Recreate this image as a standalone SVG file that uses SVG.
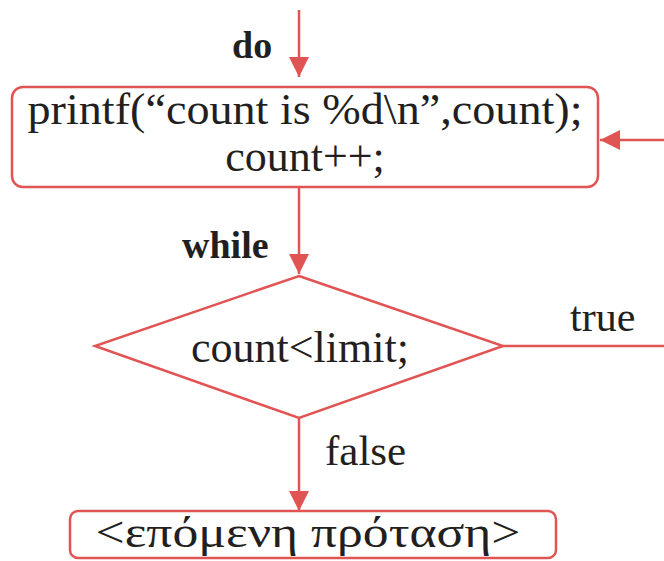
<svg xmlns="http://www.w3.org/2000/svg" width="664" height="561" viewBox="0 0 664 561">
<style>
.ln{stroke:#e05454;stroke-width:2.5;fill:none}
.shape{stroke:#e05454;stroke-width:2.5;fill:#ffffff}
.t{font-family:"Liberation Serif","Times New Roman",serif;fill:#231f20;font-size:44px}
.b{font-family:"Liberation Serif","Times New Roman",serif;fill:#231f20;font-size:38px;font-weight:bold}
</style>
<defs>
<marker id="ah" viewBox="0 0 10 10" refX="10" refY="5" markerWidth="26" markerHeight="20" markerUnits="userSpaceOnUse" orient="auto">
<path d="M0,0 L10,5 L0,10 z" fill="#e05454"/>
</marker>
</defs>
<rect width="664" height="561" fill="#ffffff"/>
<g id="connectors">
<line class="ln" x1="299" y1="10" x2="299" y2="77" marker-end="url(#ah)"/>
<line class="ln" x1="299" y1="187" x2="299" y2="274" marker-end="url(#ah)"/>
<line class="ln" x1="299" y1="418" x2="299" y2="511" marker-end="url(#ah)"/>
<line class="ln" x1="503" y1="346" x2="664" y2="346"/>
<line class="ln" x1="664" y1="140" x2="600" y2="140" marker-end="url(#ah)"/>
<text class="b" x="232" y="58">do</text>
<text class="b" x="182" y="258">while</text>
<text class="t" x="570" y="331" style="font-size:42px">true</text>
<text class="t" x="325" y="465" style="font-size:43px">false</text>
</g>
<g id="body">
<rect class="shape" x="12" y="87" width="586" height="100" rx="11"/>
<text class="t" x="305" y="124" text-anchor="middle" textLength="555" lengthAdjust="spacingAndGlyphs">printf(“count is %d\n”,count);</text>
<text class="t" x="305" y="171" text-anchor="middle">count++;</text>
</g>
<g id="condition">
<polygon class="shape" points="299,276 503,346 299,418 95,346"/>
<text class="t" x="300" y="362" text-anchor="middle">count&lt;limit;</text>
</g>
<g id="next">
<rect class="shape" x="70" y="511" width="486" height="47" rx="8"/>
<text class="t" x="308" y="547" text-anchor="middle" textLength="425" lengthAdjust="spacingAndGlyphs">&lt;επόμενη πρόταση&gt;</text>
</g>
</svg>
